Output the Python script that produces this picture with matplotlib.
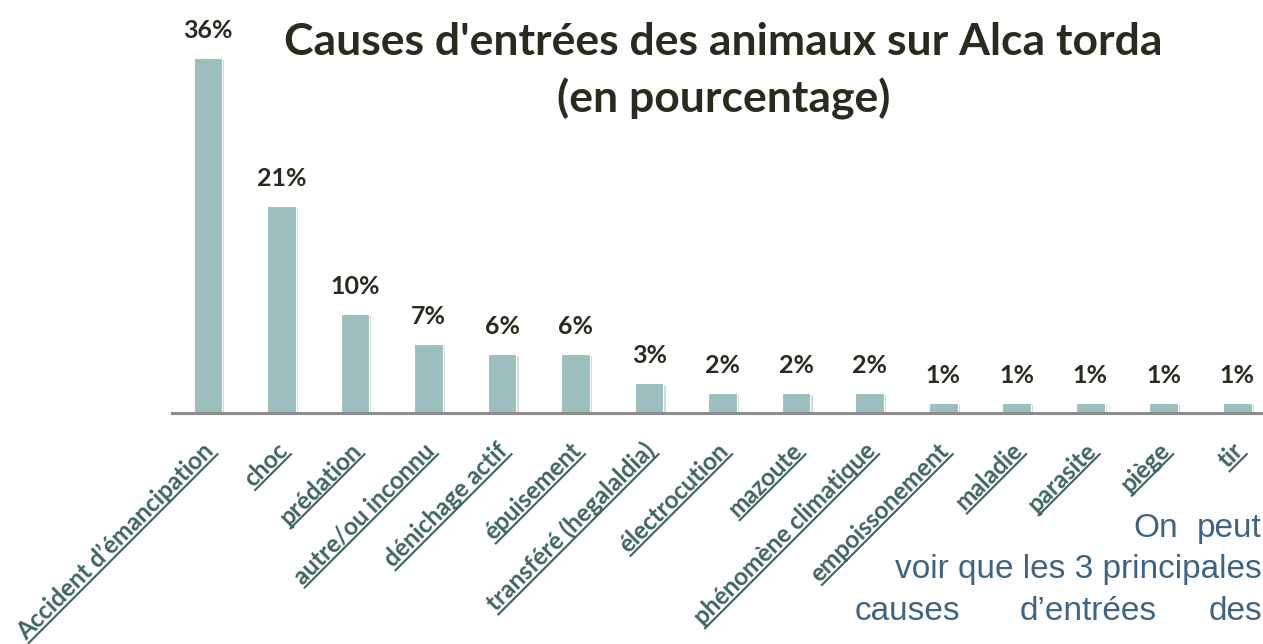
import matplotlib
matplotlib.use("Agg")
import matplotlib.pyplot as plt
from matplotlib.lines import Line2D
from matplotlib.transforms import IdentityTransform
import matplotlib.patheffects as pe

causes = ["Accident d\u2019émancipation", "choc", "prédation", "autre/ou inconnu",
          "dénichage actif", "épuisement", "transféré (hegalaldia)", "électrocution",
          "mazoute", "phénomène climatique", "empoissonement", "maladie",
          "parasite", "piège", "tir"]
pourcentages = [36, 21, 10, 7, 6, 6, 3, 2, 2, 2, 1, 1, 1, 1, 1]

BAR_COLOR = "#9bbfbd"
LABEL_COLOR = "#3e6561"
TITLE_COLOR = "#2b2a1f"
NOTE_COLOR = "#3e6485"
LABEL_SIZE = 17.5

W, H = 1263, 644
fig = plt.figure(figsize=(W / 100, H / 100), dpi=100)
ax = fig.add_axes([172 / W, 1 - 413 / H, 1 - 172 / W, 355 / H])

x = list(range(len(causes)))
bars = ax.bar(x, pourcentages, width=0.39, color=BAR_COLOR, edgecolor="white", linewidth=0.8,
              zorder=2)
for b in bars:
    b.set_path_effects([pe.SimplePatchShadow(offset=(1.5, -1.5), shadow_rgbFace="#b0b0b0", alpha=0.5),
                        pe.Normal()])

ax.set_xlim(-0.49, 14.35)
ax.set_ylim(0, 36)
for s in ["left", "right", "top"]:
    ax.spines[s].set_visible(False)
ax.spines["bottom"].set_color("#8c8c8c")
ax.spines["bottom"].set_linewidth(2.2)
ax.set_yticks([])
ax.set_xticks([])

for xi, v in zip(x, pourcentages):
    ax.annotate(f"{v}%", (xi, v), xytext=(0, 11.5), textcoords="offset points",
                ha="center", va="bottom", fontsize=18, fontweight="bold",
                family="Lato", color=TITLE_COLOR, clip_on=False)

title_kw = dict(ha="center", va="baseline", fontsize=32, fontweight="bold",
                family="Lato", color=TITLE_COLOR)
fig.text(0.573, 1 - 55 / H, "Causes d'entrées des animaux sur Alca torda", **title_kw)
fig.text(0.573, 1 - 112 / H, "(en pourcentage)", **title_kw)

# rotated, underlined category labels
labels = []
for xi, name in zip(x, causes):
    t = ax.text(xi + 0.1, -0.11, name, transform=ax.get_xaxis_transform(),
                rotation=45, rotation_mode="anchor", ha="right", va="baseline",
                fontsize=LABEL_SIZE, fontweight="bold", family="Lato", color=LABEL_COLOR,
                clip_on=False)
    labels.append(t)

fig.canvas.draw()
renderer = fig.canvas.get_renderer()
c = s = 0.7071
for t in labels:
    tmp = fig.text(0, 0, t.get_text(), fontsize=LABEL_SIZE, fontweight="bold", family="Lato")
    w = tmp.get_window_extent(renderer).width
    tmp.remove()
    ax0, ay0 = t.get_transform().transform(t.get_position())
    d = 3
    x1, y1 = ax0 + d * s, ay0 - d * c
    x0, y0 = x1 - w * c, y1 - w * s
    fig.add_artist(Line2D([x0, x1], [y0, y1], transform=IdentityTransform(),
                          color=LABEL_COLOR, linewidth=1.5))

# commentary text at the bottom right
note_kw = dict(fontsize=24, family="Liberation Sans", color=NOTE_COLOR, va="baseline")
fig.text(1133 / W, 1 - 537 / H, "On", ha="left", **note_kw)
fig.text(1262 / W, 1 - 537 / H, "peut", ha="right", **note_kw)
fig.text(1262 / W, 1 - 578 / H, "voir que les 3 principales", ha="right", **note_kw)
fig.text(855 / W, 1 - 620 / H, "causes", ha="left", **note_kw)
fig.text(1020 / W, 1 - 620 / H, "d\u2019entrées", ha="left", **note_kw)
fig.text(1262 / W, 1 - 620 / H, "des", ha="right", **note_kw)

fig.savefig("out.png", dpi=100)
